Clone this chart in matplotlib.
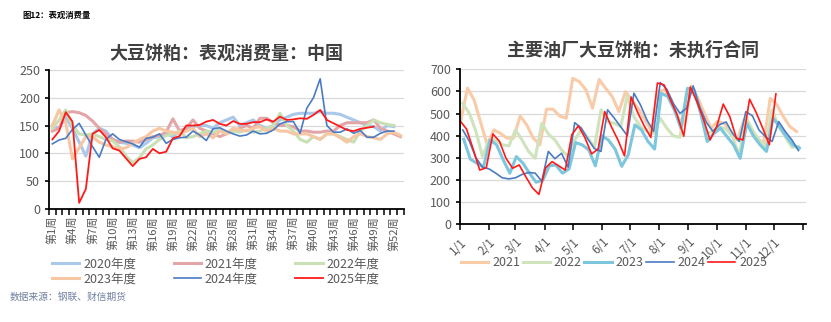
import numpy as np
import matplotlib
matplotlib.use("Agg")
from matplotlib import pyplot as plt

plt.rcParams['font.family'] = ['Noto Sans CJK SC', 'DejaVu Sans']

# 表观消费量 (weekly, 万吨)
week_labels = ["第%d周" % w for w in range(1, 54)]
cons_2020 = [150, 145, 165, 145, 120, 95, 135, 145, 140, 125, 120, 118, 115, 110, 118, 128, 130,
             135, 130, 140, 145, 148, 150, 150, 145, 155, 160, 165, 150, 155, 160, 150, 145, 150,
             160, 165, 170, 172, 172, 172, 175, 172, 172, 170, 165, 160, 155, 150, 148, 140, 150, 148]
cons_2021 = [140, 145, 173, 175, 173, 168, 158, 145, 135, 125, 120, 122, 122, 120, 125, 130, 132,
             138, 162, 140, 145, 160, 145, 140, 135, 130, 135, 140, 145, 150, 145, 163, 163, 155,
             150, 150, 148, 140, 140, 138, 138, 140, 140, 150, 155, 155, 155, 155, 160, 145, 140,
             135, 130]
cons_2022 = [145, 160, 178, 150, 135, 133, 135, 130, 125, 122, 112, 95, 83, 92, 108, 115, 125,
             132, 135, 140, 128, 130, 135, 140, 138, 142, 135, 140, 138, 142, 138, 140, 145, 150,
             172, 150, 140, 125, 120, 130, 125, 135, 135, 130, 125, 120, 140, 150, 160, 155, 152, 150]
cons_2023 = [150, 178, 155, 90, 110, 130, 130, 120, 115, 112, 108, 110, 118, 125, 130, 140, 145,
             140, 138, 135, 140, 145, 130, 135, 128, 140, 135, 145, 142, 140, 145, 148, 140, 145,
             140, 140, 135, 135, 135, 130, 125, 135, 135, 128, 120, 130, 135, 130, 128, 125, 135,
             138, 132]
cons_2024 = [117, 124, 127, 143, 154, 133, 112, 93, 125, 135, 125, 121, 117, 111, 127, 129, 135,
             118, 125, 128, 129, 140, 133, 123, 144, 146, 140, 135, 131, 133, 140, 135, 136, 142,
             153, 157, 157, 136, 181, 200, 234, 150, 138, 138, 144, 136, 141, 129, 129, 136, 140, 140]
cons_2025 = [125, 140, 174, 157, 11, 36, 135, 142, 129, 109, 105, 91, 77, 90, 93, 108, 100, 103,
             127, 131, 150, 150, 151, 157, 160, 153, 150, 158, 153, 153, 156, 156, 161, 157, 166,
             160, 161, 163, 162, 169, 178, 160, 154, 148, 142, 140, 144, 146, 148]

# 未执行合同 (weekly, 万吨)
month_labels = ["%d/1" % m for m in range(1, 13)]
unexec_2021 = [471, 615, 562, 460, 359, 426, 411, 389, 389, 489, 449, 389, 359, 520, 520, 489, 479,
               659, 644, 607, 524, 654, 614, 577, 509, 599, 560, 520, 470, 420, 600, 607, 560, 480,
               449, 625, 570, 500, 434, 464, 456, 419, 381, 471, 434, 389, 366, 569, 540, 486, 441, 419]
unexec_2022 = [547, 501, 419, 306, 381, 381, 359, 354, 426, 381, 329, 298, 456, 408, 381, 336, 306,
               381, 426, 390, 348, 517, 464, 456, 441, 580, 486, 441, 420, 411, 479, 434, 399, 393,
               592, 605, 524, 411, 420, 440, 430, 396, 310, 486, 426, 381, 351, 517, 441, 396, 348, 351]
unexec_2023 = [384, 294, 276, 258, 381, 359, 291, 231, 306, 276, 230, 190, 198, 264, 268, 231, 250,
               369, 359, 336, 264, 400, 380, 340, 262, 314, 449, 426, 374, 340, 592, 577, 517, 434,
               614, 607, 501, 374, 410, 434, 396, 359, 298, 456, 400, 360, 329, 479, 441, 396, 359, 344]
unexec_2024 = [426, 375, 300, 258, 250, 231, 210, 205, 210, 225, 234, 231, 195, 329, 296, 321, 258,
               459, 435, 385, 342, 329, 517, 480, 440, 400, 592, 539, 470, 420, 640, 610, 545, 501,
               524, 625, 530, 460, 420, 450, 462, 410, 374, 509, 490, 426, 395, 374, 464, 419, 381, 333]
unexec_2025 = [468, 430, 340, 245, 255, 408, 375, 298, 253, 268, 215, 165, 135, 255, 283, 264, 245,
               405, 445, 390, 318, 340, 509, 441, 381, 309, 575, 505, 444, 392, 638, 630, 560, 494,
               398, 620, 554, 474, 381, 441, 543, 486, 389, 381, 565, 505, 434, 359, 589]
first_day = {2021: 1, 2022: 3, 2023: 4, 2024: 3, 2025: 0}

GREY = "#595959"


def style_axes(ax):
    for side in ["top", "right"]:
        ax.spines[side].set_visible(False)
    ax.spines["left"].set_color("black")
    ax.spines["bottom"].set_color("black")
    ax.spines["left"].set_linewidth(1.3)
    ax.spines["bottom"].set_linewidth(1.3)
    ax.yaxis.grid(True, color="#D9D9D9", linewidth=0.9)
    ax.set_axisbelow(True)
    ax.tick_params(axis="y", colors="black", labelcolor=GREY, labelsize=9, length=3, width=1.2)


def plot_consumption(ax):
    series = [(cons_2020, "2020年度", "#A9C8EA", 2.2),
              (cons_2021, "2021年度", "#E3A6A8", 2.2),
              (cons_2022, "2022年度", "#C9DFB4", 2.2),
              (cons_2023, "2023年度", "#F7C6A3", 2.2),
              (cons_2024, "2024年度", "#4A7CC4", 1.2),
              (cons_2025, "2025年度", "#FF1A1A", 1.3)]
    lines = []
    for values, name, color, lw in series:
        line, = ax.plot(np.arange(len(values)), values, color=color, linewidth=lw, label=name)
        lines.append(line)
    style_axes(ax)
    ax.set_ylim(0, 250)
    ax.set_yticks(range(0, 251, 50))
    ax.set_xlim(-0.5, 52.5)
    ax.set_xticks(np.arange(-0.5, 53, 1))
    ax.set_xticklabels([])
    ax.tick_params(axis="x", which="major", length=4, width=1.1, colors="black")
    ax.set_xticks(np.arange(0, 53, 3), minor=True)
    ax.set_xticklabels(week_labels[::3], minor=True, rotation=90)
    ax.tick_params(axis="x", which="minor", length=0, labelsize=8, labelcolor=GREY, pad=5)
    ax.set_title("大豆饼粕：表观消费量：中国", fontsize=13, fontweight="bold", color="#404040", pad=8)
    # legend fills column by column, so reorder to read row by row
    order = [0, 3, 1, 4, 2, 5]
    ax.legend([lines[i] for i in order], [series[i][1] for i in order],
              loc="upper center", bbox_to_anchor=(0.47, -0.27), ncol=3, frameon=False,
              fontsize=9, labelcolor=GREY, handlelength=2.2, columnspacing=3.0,
              handletextpad=0.3, labelspacing=0.15)


def plot_unexecuted(ax):
    series = [(unexec_2021, 2021, "#F9CBA8", 2.2),
              (unexec_2022, 2022, "#CFE3BC", 2.2),
              (unexec_2023, 2023, "#7CC6DE", 2.2),
              (unexec_2024, 2024, "#4A7CC4", 1.2),
              (unexec_2025, 2025, "#FF1A1A", 1.2)]
    for values, year, color, lw in series:
        days = first_day[year] + 7 * np.arange(len(values))
        ax.plot(days, values, color=color, linewidth=lw, label=str(year))
    style_axes(ax)
    ax.set_ylim(0, 700)
    ax.set_yticks(range(0, 701, 100))
    month_starts = [0, 31, 59, 90, 120, 151, 181, 212, 243, 273, 304, 334, 365]
    ax.set_xlim(0, 368)
    ax.set_xticks(month_starts)
    ax.set_xticklabels(month_labels + [""], rotation=45, ha="right", rotation_mode="anchor")
    ax.tick_params(axis="x", length=4, width=1.1, colors="black", labelcolor=GREY,
                   labelsize=8.5, pad=4)
    ax.set_title("主要油厂大豆饼粕：未执行合同", fontsize=13, fontweight="bold", color="#404040", pad=10)
    ax.legend(loc="upper center", bbox_to_anchor=(0.445, -0.135), ncol=5, frameon=False,
              fontsize=9, labelcolor=GREY, handlelength=2.2, columnspacing=0.2,
              handletextpad=0.3)


fig = plt.figure(figsize=(8.31, 3.22), dpi=100)
ax1 = fig.add_axes([0.059, 0.351, 0.427, 0.432])
ax2 = fig.add_axes([0.5535, 0.3034, 0.4164, 0.4814])
plot_consumption(ax1)
plot_unexecuted(ax2)

fig.text(0.027, 0.953, "图12：表观消费量", fontsize=6, fontweight="bold", color="black",
         va="center")
fig.text(0.012, 0.078, "数据来源：钢联、财信期货", fontsize=7, color="#7080A0", va="center")

fig.savefig("out.png", dpi=100)
